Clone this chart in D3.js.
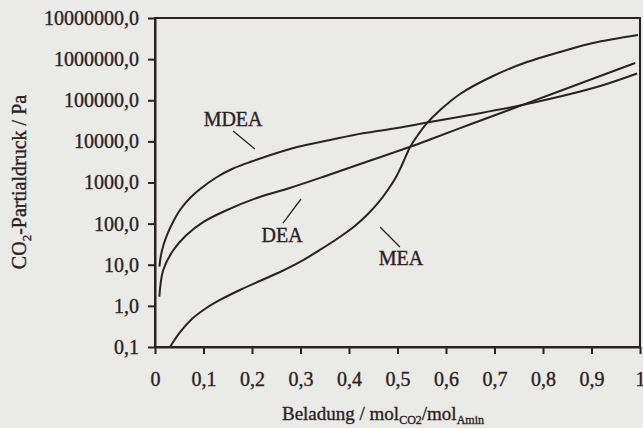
<!DOCTYPE html>
<html>
<head>
<meta charset="utf-8">
<script src="https://cdn.jsdelivr.net/npm/d3@7/dist/d3.min.js"></script>
<style>
  html, body { margin: 0; padding: 0; background: #eaeae7; }
  svg { display: block; }
  text { font-family: "Liberation Serif", "Times New Roman", serif; fill: #2a2222; stroke: #2a2222; stroke-width: 0.35px; }
</style>
</head>
<body>
<svg id="chart" width="643" height="428"></svg>
<script>
// CO2 partial pressure over amine loading (mol CO2 / mol amine)
const xTicks = [0, 0.1, 0.2, 0.3, 0.4, 0.5, 0.6, 0.7, 0.8, 0.9, 1];
const yTicks = [0.1, 1, 10, 100, 1000, 10000, 100000, 1000000, 10000000];

const mdeaLoading = [0.009, 0.0124, 0.0175, 0.0247, 0.0351, 0.0515, 0.0722, 0.093, 0.128, 0.161, 0.196, 0.293, 0.361, 0.429, 0.499, 0.561, 0.649, 0.738, 0.835, 0.918, 0.994];
const mdeaPressure = [8.97, 17.3, 30.2, 52.8, 98, 214, 420, 695, 1360, 2190, 3150, 7290, 10800, 15700, 21100, 28800, 43800, 68600, 123000, 222000, 447000];

const deaLoading = [0.009, 0.017, 0.038, 0.065, 0.100, 0.144, 0.210, 0.278, 0.346, 0.429, 0.522, 0.567, 0.649, 0.738, 0.835, 0.990];
const deaPressure = [1.67, 7.45, 22.9, 52.8, 110, 203, 420, 735, 1360, 2980, 7100, 11100, 25700, 63000, 168000, 805000];

const meaLoading = [0.031, 0.052, 0.076, 0.103, 0.134, 0.175, 0.216, 0.258, 0.299, 0.340, 0.381, 0.412, 0.437, 0.460, 0.480, 0.497, 0.511, 0.526, 0.542, 0.559, 0.588, 0.629, 0.697, 0.767, 0.835, 0.903, 0.996];
const meaPressure = [0.1, 0.232, 0.48, 0.84, 1.39, 2.43, 4.03, 6.67, 11.7, 22.9, 47.3, 87.5, 162, 318, 658, 1360, 2980, 7290, 14300, 26400, 57900, 142000, 389000, 851000, 1490000, 2470000, 3860000];

const seriesNames = ["MDEA", "DEA", "MEA"];

const svg = d3.select("#chart");
const ink = "#2a2222";
const plot = { left: 155, right: 640, top: 18, bottom: 347 };

const x = d3.scaleLinear().domain([0, 1]).range([plot.left, plot.right]);
const y = d3.scaleLog().domain([0.1, 10000000]).range([plot.bottom, plot.top]);

const commaFmt = d3.format(".1f");
const yFmt = d => commaFmt(d).replace(".", ",");
const xFmt = d => (d === 0 || d === 1) ? String(d) : commaFmt(d).replace(".", ",");

// frame
svg.append("rect")
  .attr("x", plot.left).attr("y", plot.top)
  .attr("width", plot.right - plot.left).attr("height", plot.bottom - plot.top)
  .attr("fill", "none").attr("stroke", ink).attr("stroke-width", 2);

// axes
const yAxis = svg.append("g")
  .attr("transform", `translate(${plot.left},0)`)
  .call(d3.axisLeft(y).tickValues(yTicks).tickFormat(yFmt).tickSize(7).tickSizeOuter(0).tickPadding(9));
const xAxis = svg.append("g")
  .attr("transform", `translate(0,${plot.bottom})`)
  .call(d3.axisBottom(x).tickValues(xTicks).tickFormat(xFmt).tickSize(7).tickSizeOuter(0).tickPadding(18));

[yAxis, xAxis].forEach(g => {
  g.select(".domain").attr("stroke", ink).attr("stroke-width", 2);
  g.selectAll(".tick line").attr("stroke", ink).attr("stroke-width", 2);
  g.selectAll(".tick text").attr("fill", ink).style("font-size", "20px").style("font-family", '"Liberation Serif", serif');
});

// curves
const line = d3.line()
  .x(d => x(d[0]))
  .y(d => y(d[1]))
  .curve(d3.curveCatmullRom.alpha(0.5));

const series = [
  d3.zip(mdeaLoading, mdeaPressure),
  d3.zip(deaLoading, deaPressure),
  d3.zip(meaLoading, meaPressure)
];

svg.append("g").selectAll("path")
  .data(series)
  .join("path")
  .attr("d", line)
  .attr("fill", "none")
  .attr("stroke", ink)
  .attr("stroke-width", 2)
  .attr("stroke-linejoin", "round");

// curve labels with leader lines
const labels = [
  { name: seriesNames[0], tx: 0.161, ty: 23700, lx1: 0.161, ly1: 17900, lx2: 0.206, ly2: 6530 },
  { name: seriesNames[1], tx: 0.262, ty: 36, lx1: 0.264, ly1: 103, lx2: 0.301, ly2: 397 },
  { name: seriesNames[2], tx: 0.507, ty: 9.9, lx1: 0.464, ly1: 83, lx2: 0.505, ly2: 27 }
];
labels.forEach(l => {
  svg.append("line")
    .attr("x1", x(l.lx1)).attr("y1", y(l.ly1))
    .attr("x2", x(l.lx2)).attr("y2", y(l.ly2))
    .attr("stroke", ink).attr("stroke-width", 1.3);
  svg.append("text")
    .attr("x", x(l.tx)).attr("y", y(l.ty))
    .attr("text-anchor", "middle")
    .style("font-size", "20px")
    .text(l.name);
});

// axis titles
const xTitle = svg.append("text")
  .attr("x", 383).attr("y", 420)
  .attr("text-anchor", "middle")
  .style("font-size", "19px");
xTitle.append("tspan").text("Beladung / mol");
xTitle.append("tspan").attr("dy", 4).style("font-size", "12px").text("CO2");
xTitle.append("tspan").attr("dy", -4).text("/mol");
xTitle.append("tspan").attr("dy", 4).style("font-size", "12px").text("Amin");

const yTitle = svg.append("text")
  .attr("transform", "translate(26,182) rotate(-90)")
  .attr("text-anchor", "middle")
  .style("font-size", "20px");
yTitle.append("tspan").text("CO");
yTitle.append("tspan").attr("dy", 5).style("font-size", "13px").text("2");
yTitle.append("tspan").attr("dy", -5).text("-Partialdruck / Pa");
</script>
</body>
</html>
